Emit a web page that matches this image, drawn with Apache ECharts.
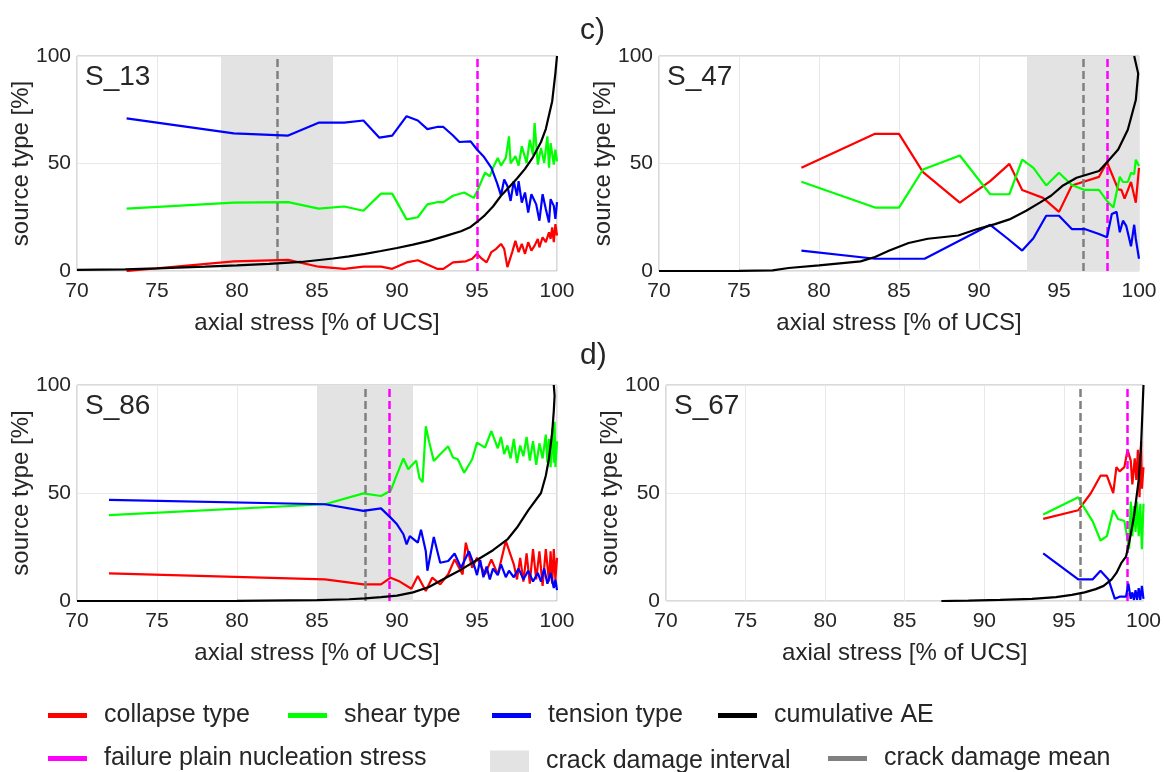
<!DOCTYPE html>
<html>
<head>
<meta charset="utf-8">
<script src="https://cdn.jsdelivr.net/npm/echarts@6/dist/echarts.min.js"></script>
<style>html,body{margin:0;padding:0;background:#fff;}#c{width:1164px;height:772px;}</style>
</head>
<body>
<div id="c"></div>
<script>
// ---------- DATA ----------
const xTicks = [70, 75, 80, 85, 90, 95, 100];
const yTicks = [0, 50, 100];
const panelNames = ['S_13', 'S_47', 'S_86', 'S_67'];
const panelLetters = ['c)', 'd)'];

const s13Collapse = [[73.1,0],[79.8,4.5],[83.2,5.2],[85.1,2],[86.7,1],[87.9,2],[89,2],[89.7,1],[90.6,4],[91.3,5],[91.9,3],[92.5,1],[92.9,1],[93.5,4],[94.3,4.5],[94.7,5.7],[95,8],[95.3,5.7],[95.6,4],[95.9,8.8],[96.2,10.3],[96.5,12.6],[96.7,10.3],[96.9,1.8],[97.2,8.8],[97.4,14],[97.6,8.8],[97.8,12.6],[98,8],[98.2,13.4],[98.4,9.5],[98.6,11.8],[98.8,14.9],[98.9,11],[99.1,15.7],[99.3,13.4],[99.5,18],[99.6,14.9],[99.7,20.3],[99.8,13.4],[99.9,21.8],[100,16.5]];
const s13Shear = [[73.1,29],[79.8,31.8],[83.2,32],[85.1,29],[86.7,30],[87.9,28],[89,36],[89.7,36],[90.6,24],[91.3,25],[91.9,31],[92.5,32],[92.9,32],[93.5,35],[94.2,36.5],[94.8,34],[95,37],[95.5,45.7],[95.8,44],[96,48],[96.3,52.6],[96.5,49],[96.8,52.6],[97,62.6],[97.1,50],[97.4,53.4],[97.6,49],[97.8,58],[98.1,50.3],[98.3,61],[98.5,54],[98.6,68.8],[98.8,49.5],[99,57.2],[99.2,50.3],[99.4,62.6],[99.5,48],[99.6,59.5],[99.8,49.5],[99.9,56.5],[100,51]];
const s13Tension = [[73.1,71],[79.8,64],[83.2,63],[85.1,69],[86.7,69],[87.9,70],[88.9,62],[89.7,63],[90.6,72],[91.3,70],[91.9,66],[92.5,67],[92.9,67],[93.5,63],[93.9,60],[94.6,60.3],[95,56.5],[95.4,53.4],[95.9,48],[96.25,41],[96.5,35.2],[96.7,42.6],[96.9,39.5],[97.1,32.6],[97.3,41.8],[97.5,35],[97.6,41.8],[97.8,31.8],[98,36.5],[98.2,27.2],[98.4,35.7],[98.7,31],[98.9,23.4],[99.1,35.7],[99.3,28.8],[99.5,22.6],[99.6,33.4],[99.8,30.3],[99.9,24.2],[100,32]];
const s13Cumulative = [[70,0.5],[73,0.8],[75,1.2],[78,2],[80,2.6],[82,3.3],[84,4.2],[85,5],[86,5.8],[87,6.8],[88,8],[89,9.3],[90,10.7],[91,12.3],[92,14],[93,16.2],[94,18.5],[94.6,20.5],[95,22.8],[95.5,26],[96,30],[96.5,35],[97,39],[97.5,43],[98,47.5],[98.5,53],[99,60],[99.3,66],[99.7,79],[99.9,92],[100,100]];
const s13Interval = [79, 86];
const s13Mean = 82.5;
const s13Nucleation = 95;

const s47Collapse = [[78.9,48],[83.5,63.8],[85,63.8],[86.5,46],[88.8,31.8],[90.7,41.8],[91.9,49.8],[92.7,37.7],[94,34],[95,27.5],[95.8,39.8],[97.5,43.8],[98,50.6],[98.7,38],[98.9,37.7],[99.1,33.7],[99.5,41.4],[99.8,31.8],[100,48]];
const s47Shear = [[78.9,41.5],[83.5,29.5],[85,29.5],[86.5,47.2],[88.8,53.7],[90.7,35.7],[91.9,35.7],[92.7,51.8],[93.4,48],[94.2,39.8],[95,45.7],[95.8,40],[96.6,37.7],[97.5,37.7],[98,32.6],[98.4,29.5],[98.8,43.8],[99,41.4],[99.3,41.4],[99.5,45.7],[99.7,45],[99.8,51.8],[100,48.8]];
const s47Tension = [[78.9,9.5],[83.5,5.7],[85,5.7],[86.6,5.7],[88.8,14.2],[90.7,21.5],[91.8,15],[92.7,9.5],[93.4,15.2],[94.2,25.7],[95,25.7],[95.8,19.5],[96.6,19.5],[97.5,17.2],[98,15.7],[98.3,26.5],[98.6,27.5],[98.8,18],[99,23.4],[99.2,21],[99.5,11.5],[99.7,21.5],[99.8,15],[100,5.7]];
const s47Cumulative = [[70,0],[75,0.1],[77.1,0.3],[78.1,1.4],[80,2.6],[82.6,4.5],[83.5,6.5],[84.4,9.5],[85.6,13],[86.8,15],[88.7,16.5],[89.9,19.5],[91,21.8],[91.9,24],[92.95,28],[93.8,31.8],[94.5,35],[95.2,39.5],[96.1,43.4],[97.5,46.5],[98,50.6],[98.7,56.5],[99.3,65.7],[99.8,79.5],[99.95,91.8],[99.7,100]];
const s47Interval = [93, 100];
const s47Mean = 96.5;
const s47Nucleation = 98;

const s86Collapse = [[72,12.8],[85.5,10],[87.9,7.7],[89,7.7],[89.6,10.8],[90.1,9.3],[90.9,5.7],[91.3,11.6],[91.8,4.6],[92.2,10.8],[92.7,7.7],[93.2,12.4],[93.6,19.3],[94.1,12.3],[94.3,27],[94.7,15.4],[95,20],[95.5,12.3],[95.9,19.3],[96.3,12.3],[96.8,27.8],[97.3,17],[97.5,10],[97.7,20],[97.9,9],[98.1,22],[98.3,8],[98.5,24],[98.7,10],[98.9,23],[99.1,7],[99.3,24],[99.5,9],[99.6,23],[99.7,8],[99.8,24],[99.9,10],[100,20]];
const s86Shear = [[72,39.8],[85.5,44.8],[87.9,49.8],[89,48.6],[89.6,51],[90,58.6],[90.4,66],[90.7,61],[91.2,65],[91.4,57],[91.6,55],[91.8,80.9],[92,74],[92.3,64.8],[92.7,67.9],[93.2,71.6],[93.5,66.4],[93.8,65.6],[94.2,59.4],[94.7,65.6],[95,73.3],[95.5,71],[95.9,78.7],[96.3,70.7],[96.5,76],[96.7,68],[96.9,72],[97.1,66],[97.3,75],[97.5,64],[97.7,72],[97.9,67],[98.1,76],[98.3,65],[98.5,74],[98.7,63],[98.9,73],[99.1,66],[99.3,77],[99.4,64],[99.5,75],[99.6,62],[99.7,80],[99.8,64],[99.85,83],[99.9,62],[100,74]];
const s86Tension = [[72,46.8],[85.5,44.8],[87.9,41.7],[89,42.9],[89.6,38.6],[90,35.5],[90.4,30.9],[90.6,26.2],[90.8,30],[91.3,27],[91.5,33],[91.8,23],[91.9,14],[92.3,29.6],[92.7,17.7],[93.2,18.5],[93.6,22],[94,15.4],[94.5,23],[94.8,17],[95,12],[95.2,19],[95.4,11],[95.6,16],[95.8,10],[96,15],[96.3,12],[96.5,17],[96.8,11],[97,14],[97.3,11],[97.6,15],[97.9,10],[98.2,14],[98.5,9],[98.8,13],[99,9],[99.2,15],[99.4,8],[99.6,13],[99.8,6],[99.9,10],[100,5]];
const s86Cumulative = [[70,0],[80,0.1],[85,0.4],[87,0.8],[88,1.2],[89,1.8],[90,2.5],[91,4],[92,6.5],[93,10.5],[94,14.5],[95,19],[96,23.5],[96.9,28.5],[97.5,34],[98.2,42],[99,50],[99.3,58],[99.5,66],[99.7,78],[99.8,88],[99.85,95],[99.8,100]];
const s86Interval = [85, 91];
const s86Mean = 88;
const s86Nucleation = 89.5;

const s67Collapse = [[93.7,38],[95.9,42],[96.7,50],[97.3,58],[97.7,58],[98.1,50],[98.3,62],[98.5,60],[98.8,62],[99,70],[99.2,65],[99.3,54],[99.45,66],[99.55,56],[99.65,70],[99.75,48],[99.85,74],[99.9,52],[100,62]];
const s67Shear = [[93.7,40],[95.9,48],[96.2,44],[96.8,37],[97.3,28],[97.7,30],[98.1,42],[98.4,38],[98.8,37],[99.1,24],[99.2,46],[99.3,30],[99.4,44],[99.5,32],[99.6,46],[99.7,30],[99.8,45],[99.9,24],[100,45]];
const s67Tension = [[93.7,22],[95.9,10],[96.8,10],[97.3,14],[97.8,10],[98.2,1],[98.5,2],[98.9,2],[99.05,8],[99.2,1],[99.3,4],[99.4,0.5],[99.5,5],[99.6,0.5],[99.7,6],[99.8,0.5],[99.9,7],[100,1]];
const s67Cumulative = [[87.3,0],[89,0.2],[91,0.5],[93,1],[94.5,1.8],[95.5,2.8],[96.3,4],[97,5.5],[97.5,7],[98,10],[98.3,13],[98.6,17.5],[98.9,20.5],[99.1,27],[99.4,39],[99.7,56],[99.85,72],[100,100]];
const s67Interval = null;
const s67Mean = 96;
const s67Nucleation = 99;

const legendNames = ['collapse type','shear type','tension type','cumulative AE','failure plain nucleation stress','crack damage interval','crack damage mean'];

// ---------- BUILD ----------
const FONT = "'Liberation Sans', Arial, Helvetica, sans-serif";
const TXT = '#262626';
const C = {collapse:'#ff0000', shear:'#00ff00', tension:'#0000ff', cum:'#000000', nuc:'#ff00ff', mean:'#808080', shade:'#e3e3e3'};

const panels = [
  {collapse:s13Collapse, shear:s13Shear, tension:s13Tension, cum:s13Cumulative, interval:s13Interval, mean:s13Mean, nuc:s13Nucleation},
  {collapse:s47Collapse, shear:s47Shear, tension:s47Tension, cum:s47Cumulative, interval:s47Interval, mean:s47Mean, nuc:s47Nucleation},
  {collapse:s86Collapse, shear:s86Shear, tension:s86Tension, cum:s86Cumulative, interval:s86Interval, mean:s86Mean, nuc:s86Nucleation},
  {collapse:s67Collapse, shear:s67Shear, tension:s67Tension, cum:s67Cumulative, interval:s67Interval, mean:s67Mean, nuc:s67Nucleation}
];
const gridPos = [
  {left:77, top:56, width:480, height:215},
  {left:659, top:56, width:480, height:215},
  {left:77, top:385, width:480, height:216},
  {left:666, top:385, width:478, height:216}
];

const grids = [], xAxes = [], yAxes = [], series = [], titles = [];
panels.forEach((p, i) => {
  grids.push(Object.assign({show:true, borderColor:'#b4b4b4', borderWidth:1, backgroundColor:'transparent', containLabel:false}, gridPos[i]));
  xAxes.push({type:'value', gridIndex:i, min:xTicks[0], max:xTicks[xTicks.length-1], interval:xTicks[1]-xTicks[0],
    name:'axial stress [% of UCS]', nameLocation:'middle', nameGap:40, nameMoveOverlap:false,
    nameTextStyle:{fontSize:24, fontFamily:FONT, color:TXT},
    axisLine:{show:false}, axisTick:{show:false},
    axisLabel:{fontSize:21, fontFamily:FONT, color:TXT, margin:10},
    splitLine:{show:true, lineStyle:{color:'#e8e8e8', width:1}}});
  yAxes.push({type:'value', gridIndex:i, min:yTicks[0], max:yTicks[yTicks.length-1], interval:yTicks[1]-yTicks[0],
    name:'source type [%]', nameLocation:'middle', nameGap:44, nameMoveOverlap:false,
    nameTextStyle:{fontSize:24, fontFamily:FONT, color:TXT},
    axisLine:{show:false}, axisTick:{show:false},
    axisLabel:{fontSize:21, fontFamily:FONT, color:TXT, margin:6},
    splitLine:{show:true, lineStyle:{color:'#e8e8e8', width:1}}});
  titles.push({text:panelNames[i], left:gridPos[i].left+8, top:gridPos[i].top+7, padding:0,
    textStyle:{fontSize:28, fontWeight:'normal', fontFamily:FONT, color:TXT}});

  const base = {xAxisIndex:i, yAxisIndex:i, animation:false, silent:true};
  series.push(Object.assign({type:'line', name:'crack damage interval', data:[], z:1,
    itemStyle:{color:C.shade}, lineStyle:{color:C.shade},
    markArea: p.interval ? {silent:true, itemStyle:{color:C.shade}, data:[[{xAxis:p.interval[0]},{xAxis:p.interval[1]}]]} : undefined}, base));
  [['collapse type', p.collapse, C.collapse], ['shear type', p.shear, C.shear], ['tension type', p.tension, C.tension], ['cumulative AE', p.cum, C.cum]].forEach(([nm, d, col], k) => {
    series.push(Object.assign({type:'line', name:nm, data:d, symbol:'none', showSymbol:false, z:3+k,
      lineStyle:{color:col, width:2.2}, itemStyle:{color:col}}, base));
  });
  series.push(Object.assign({type:'line', name:'crack damage mean', data:[], z:8,
    itemStyle:{color:C.mean}, lineStyle:{color:C.mean},
    markLine:{silent:true, symbol:['none','none'], label:{show:false}, animation:false,
      lineStyle:{color:C.mean, type:[8,4], width:2.5}, data:[{xAxis:p.mean}]}}, base));
  series.push(Object.assign({type:'line', name:'failure plain nucleation stress', data:[], z:9,
    itemStyle:{color:C.nuc}, lineStyle:{color:C.nuc},
    markLine:{silent:true, symbol:['none','none'], label:{show:false}, animation:false,
      lineStyle:{color:C.nuc, type:[8,4], width:2.5}, data:[{xAxis:p.nuc}]}}, base));
});
titles.push({text:panelLetters[0], left:580, top:16, padding:0, textStyle:{fontSize:30, fontWeight:'normal', fontFamily:FONT, color:TXT}});
titles.push({text:panelLetters[1], left:580, top:341, padding:0, textStyle:{fontSize:30, fontWeight:'normal', fontFamily:FONT, color:TXT}});

const legendPos = [
  {x:48, y:703}, {x:288, y:703}, {x:492, y:703}, {x:718, y:703},
  {x:48, y:746}, {x:490, y:749, square:true}, {x:828, y:746}
];
const legends = legendNames.map((nm, i) => {
  const lp = legendPos[i];
  return {data:[{name:nm, icon:'rect'}], left:lp.x, top:lp.y, orient:'horizontal', padding:0, itemGap:0,
    itemWidth: 39, itemHeight: lp.square ? 22 : 5, selectedMode:false,
    textStyle:{fontSize:25, fontFamily:FONT, color:TXT, padding:[0,0,0,12]}};
});

const chart = echarts.init(document.getElementById('c'), null, {renderer:'canvas'});
chart.setOption({
  animation:false,
  backgroundColor:'#ffffff',
  title:titles,
  legend:legends,
  grid:grids,
  xAxis:xAxes,
  yAxis:yAxes,
  series:series
});
</script>
</body>
</html>
